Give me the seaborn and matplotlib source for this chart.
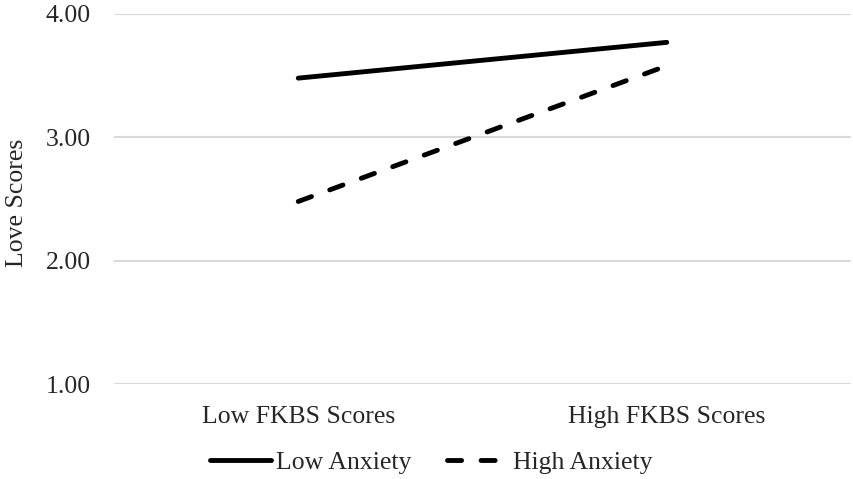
import pandas as pd
import seaborn as sns
import matplotlib.pyplot as plt

# values
fkbs_levels = ["Low FKBS Scores", "High FKBS Scores"]
low_anxiety = [3.48, 3.77]
high_anxiety = [2.48, 3.58]
y_ticks = [1.00, 2.00, 3.00, 4.00]

df = pd.DataFrame({
    "FKBS": fkbs_levels * 2,
    "Love": low_anxiety + high_anxiety,
    "Group": ["Low Anxiety"] * 2 + ["High Anxiety"] * 2,
})

sns.set_theme(style="white")
plt.rcParams['font.family'] = ['Liberation Serif', 'DejaVu Serif']
plt.rcParams['lines.dash_capstyle'] = 'round'
plt.rcParams['lines.solid_capstyle'] = 'round'

fs = 18.5
fig = plt.figure(figsize=(8.54, 4.79), dpi=100)
ax = fig.add_axes([0.1335, 0.1983, 0.863, 0.7725])

sns.lineplot(data=df, x="FKBS", y="Love", hue="Group", style="Group",
             palette={"Low Anxiety": "black", "High Anxiety": "black"},
             dashes={"Low Anxiety": "", "High Anxiety": (2.9, 4.0)},
             linewidth=3.5, sort=False, ax=ax)

ax.set_xlim(-0.5, 1.5)
ax.set_ylim(1, 4)
ax.set_yticks(y_ticks)
ax.set_yticklabels([f"{v:.2f}" for v in y_ticks])
ax.yaxis.grid(True, color="#d9d9d9", linewidth=1.5)
ax.set_axisbelow(True)
for s in ax.spines.values():
    s.set_visible(False)
ax.tick_params(axis="y", length=0, pad=16.5, labelsize=fs)
ax.tick_params(axis="x", length=0, pad=16, labelsize=fs)
ax.set_xlabel("")
ax.set_ylabel("Love Scores", fontsize=fs)
ax.yaxis.set_label_coords(-0.1165, 0.49)

handles, labels = ax.get_legend_handles_labels()
ax.get_legend().remove()
fig.legend(handles, labels, loc="center", bbox_to_anchor=(0.505, 0.034),
           ncol=2, frameon=False, fontsize=fs, handlelength=2.35,
           handletextpad=0.2, columnspacing=1.4)

fig.savefig("out.png", dpi=100)
